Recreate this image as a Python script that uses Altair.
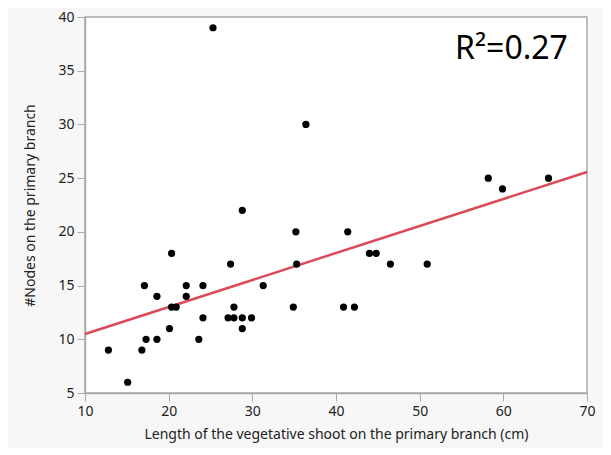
import altair as alt
import pandas as pd

shoot_length = [12.8, 15.1, 16.8, 17.3, 17.1, 18.6, 18.6, 20.1, 20.35, 20.35,
                20.9, 22.1, 22.1, 23.6, 24.1, 24.1, 27.4, 27.1, 27.8, 27.8,
                28.8, 28.8, 28.8, 29.9, 31.3, 34.9, 35.2, 35.3, 25.3, 36.4,
                41.4, 40.9, 42.2, 44.0, 44.8, 46.5, 50.9, 58.2, 59.9, 65.4]
nodes = [9, 6, 9, 10, 15, 10, 14, 11, 18, 13,
         13, 15, 14, 10, 15, 12, 17, 12, 12, 13,
         12, 11, 22, 12, 15, 13, 20, 17, 39, 30,
         20, 13, 13, 18, 18, 17, 17, 25, 24, 25]

df = pd.DataFrame({"x": shoot_length, "y": nodes})

FONT = "Noto Sans"

xs = alt.Scale(domain=[10, 70], nice=False, zero=False)
ys = alt.Scale(domain=[5, 40], nice=False, zero=False)

base = alt.Chart(df)

points = base.mark_circle(size=52, color="black", opacity=1).encode(
    x=alt.X("x:Q", scale=xs,
            axis=alt.Axis(title="Length of the vegetative shoot on the primary branch (cm)",
                          values=[10, 20, 30, 40, 50, 60, 70])),
    y=alt.Y("y:Q", scale=ys,
            axis=alt.Axis(title="#Nodes on the primary branch",
                          values=[5, 10, 15, 20, 25, 30, 35, 40])),
)

fit = base.transform_regression("x", "y", extent=[10, 70]).mark_line(
    color="#dc4a58", strokeWidth=2.5
).encode(x=alt.X("x:Q", scale=xs), y=alt.Y("y:Q", scale=ys))

label = alt.Chart(pd.DataFrame({"t": ["R²=0.27"]})).mark_text(
    font=FONT, fontSize=32, color="black", align="left", baseline="middle"
).encode(x=alt.value(370), y=alt.value(32), text="t:N")

chart = alt.layer(fit, points, label).properties(
    width=502, height=376,
    autosize=alt.AutoSizeParams(type="none"),
    padding={"left": 77, "top": 9, "right": 16, "bottom": 55},
    background="#f7f7f7",
).configure_view(
    fill="white", stroke="#aaaaaa", strokeWidth=1.5
).configure_axis(
    labelFont=FONT, titleFont=FONT, labelFontSize=14, titleFontSize=14,
    labelColor="#222222", titleColor="#222222", titleFontWeight="normal",
    grid=False, domainColor="#aaaaaa", domainWidth=1.5, tickColor="#aaaaaa",
    tickSize=8, labelPadding=3, labelFlush=False
).configure_axisX(titlePadding=9).configure_axisY(titlePadding=20)

chart.save("out.html", embed_options={"renderer": "svg", "actions": False})
